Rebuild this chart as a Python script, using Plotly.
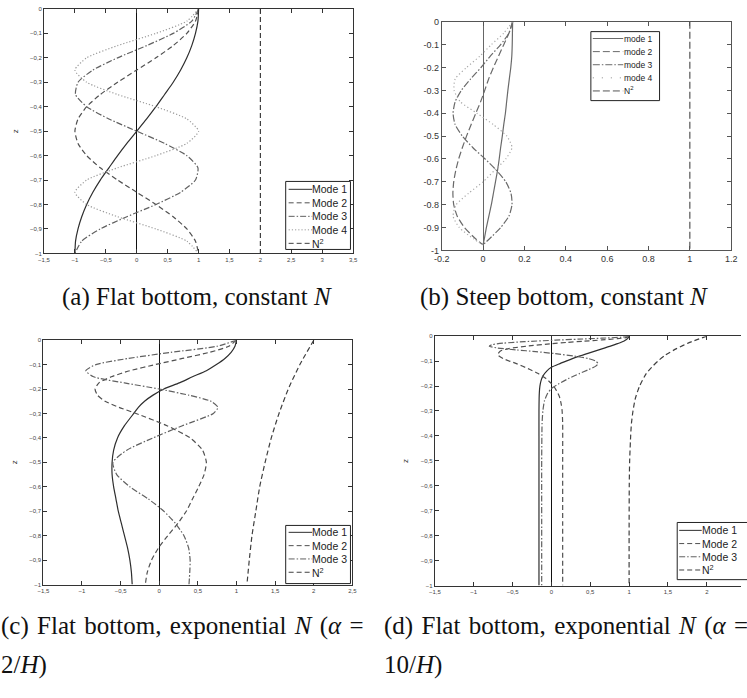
import plotly.graph_objects as go

W, H = 747, 698

# ---------------- data ----------------
# Panel (a): flat bottom, constant N
A_Z = [0, -0.05, -0.1, -0.15, -0.2, -0.25, -0.3, -0.35, -0.4, -0.45, -0.5,
       -0.55, -0.6, -0.65, -0.7, -0.75, -0.8, -0.85, -0.9, -0.95, -1.0]
A_MODE1 = [1.0, 0.99, 0.95, 0.89, 0.81, 0.71, 0.59, 0.45, 0.31, 0.16, 0.0,
           -0.16, -0.31, -0.45, -0.59, -0.71, -0.81, -0.89, -0.95, -0.99, -1.0]
A_MODE2 = [1.0, 0.95, 0.81, 0.59, 0.31, 0.0, -0.31, -0.59, -0.81, -0.95, -1.0,
           -0.95, -0.81, -0.59, -0.31, 0.0, 0.31, 0.59, 0.81, 0.95, 1.0]
A_MODE3 = [1.0, 0.89, 0.59, 0.16, -0.31, -0.71, -0.95, -0.99, -0.81, -0.45, 0.0,
           0.45, 0.81, 0.99, 0.95, 0.71, 0.31, -0.16, -0.59, -0.89, -1.0]
A_MODE4 = [1.0, 0.81, 0.31, -0.31, -0.81, -1.0, -0.81, -0.31, 0.31, 0.81, 1.0,
           0.81, 0.31, -0.31, -0.81, -1.0, -0.81, -0.31, 0.31, 0.81, 1.0]
A_N2_Z = [0, -1.0]
A_N2 = [2.0, 2.0]

# Panel (b): steep bottom, constant N
B_Z = [0, -0.05, -0.1, -0.15, -0.2, -0.25, -0.3, -0.35, -0.4, -0.45, -0.5,
       -0.55, -0.6, -0.65, -0.7, -0.75, -0.8, -0.85, -0.9, -0.95, -0.975]
B_MODE1 = [0.143, 0.142, 0.141, 0.139, 0.134, 0.127, 0.12, 0.114, 0.108, 0.1, 0.093,
           0.085, 0.078, 0.07, 0.06, 0.05, 0.04, 0.028, 0.016, 0.006, 0.0]
B_MODE2 = [0.143, 0.125, 0.1, 0.075, 0.05, 0.027, 0.008, -0.012, -0.035, -0.058, -0.08,
           -0.1, -0.118, -0.132, -0.142, -0.146, -0.142, -0.125, -0.09, -0.035, 0.0]
B_MODE3 = [0.143, 0.125, 0.085, 0.035, -0.01, -0.06, -0.105, -0.135, -0.145, -0.135, -0.1,
           -0.05, 0.01, 0.065, 0.11, 0.135, 0.14, 0.125, 0.085, 0.03, 0.0]
B_MODE4 = [0.143, 0.1, 0.04, -0.015, -0.08, -0.135, -0.14, -0.11, -0.03, 0.05, 0.115,
           0.14, 0.11, 0.055, 0.0, -0.07, -0.13, -0.145, -0.115, -0.045, 0.0]
B_N2_Z = [0, -1.0]
B_N2 = [1.0, 1.0]

# Panel (c): flat bottom, exponential N (alpha = 2/H)
C_Z = [0, -0.025, -0.05, -0.075, -0.1, -0.125, -0.15, -0.175, -0.2, -0.225, -0.25,
       -0.275, -0.3, -0.35, -0.4, -0.45, -0.5, -0.55, -0.6, -0.65, -0.7, -0.75,
       -0.8, -0.85, -0.9, -0.95, -1.0]
C_MODE1 = [1.0, 0.98, 0.93, 0.85, 0.74, 0.61, 0.43, 0.26, 0.06, -0.08, -0.19,
           -0.27, -0.33, -0.45, -0.54, -0.59, -0.61, -0.61, -0.59, -0.56, -0.53, -0.49,
           -0.45, -0.41, -0.38, -0.36, -0.35]
C_MODE2 = [1.0, 0.9, 0.65, 0.3, -0.05, -0.38, -0.62, -0.78, -0.83, -0.8, -0.7,
           -0.52, -0.3, 0.1, 0.4, 0.56, 0.61, 0.58, 0.51, 0.43, 0.35, 0.24,
           0.11, -0.01, -0.1, -0.155, -0.18]
C_MODE3 = [1.0, 0.75, 0.15, -0.4, -0.82, -0.95, -0.85, -0.45, 0.0, 0.38, 0.67,
           0.76, 0.7, 0.3, -0.08, -0.42, -0.6, -0.55, -0.38, -0.14, 0.06, 0.21,
           0.32, 0.38, 0.4, 0.395, 0.385]
C_N2_Z = [0, -0.1, -0.2, -0.3, -0.4, -0.5, -0.6, -0.7, -0.8, -0.9, -1.0]
C_N2 = [2.0, 1.82, 1.67, 1.55, 1.45, 1.37, 1.30, 1.25, 1.20, 1.165, 1.135]

# Panel (d): flat bottom, exponential N (alpha = 10/H)
D_MODE1_Z = [0, -0.01, -0.02, -0.03, -0.04, -0.05, -0.06, -0.07, -0.08, -0.09, -0.1,
             -0.11, -0.125, -0.14, -0.16, -0.18, -0.2, -0.225, -0.25, -0.3, -0.4,
             -0.6, -0.8, -1.0]
D_MODE1 = [1.0, 0.98, 0.93, 0.85, 0.76, 0.66, 0.56, 0.46, 0.36, 0.27, 0.19,
           0.11, 0.0, -0.06, -0.11, -0.135, -0.148, -0.155, -0.158, -0.16, -0.16,
           -0.16, -0.16, -0.16]
D_MODE2_Z = [0, -0.005, -0.01, -0.015, -0.02, -0.025, -0.03, -0.04, -0.05, -0.06, -0.075,
             -0.09, -0.11, -0.13, -0.15, -0.17, -0.19, -0.21, -0.24, -0.27, -0.3,
             -0.35, -0.5, -0.75, -1.0]
D_MODE2 = [1.0, 0.97, 0.85, 0.65, 0.42, 0.2, 0.0, -0.32, -0.55, -0.66, -0.69,
           -0.62, -0.45, -0.3, -0.17, -0.07, 0.0, 0.05, 0.1, 0.125, 0.138,
           0.145, 0.145, 0.145, 0.145]
D_MODE3_Z = [0, -0.004, -0.008, -0.012, -0.016, -0.022, -0.028, -0.034, -0.04, -0.047,
             -0.055, -0.062, -0.07, -0.08, -0.09, -0.1, -0.11, -0.12, -0.135, -0.15,
             -0.17, -0.19, -0.21, -0.23, -0.26, -0.3, -0.35, -0.5, -0.75, -1.0]
D_MODE3 = [1.0, 0.9, 0.65, 0.35, 0.05, -0.35, -0.62, -0.76, -0.8, -0.7,
           -0.45, -0.2, 0.05, 0.3, 0.48, 0.57, 0.6, 0.57, 0.47, 0.36,
           0.22, 0.1, 0.0, -0.05, -0.09, -0.11, -0.12, -0.125, -0.125, -0.125]
D_N2_Z = [0, -0.025, -0.05, -0.075, -0.1, -0.125, -0.15, -0.2, -0.25, -0.3, -0.35,
          -0.4, -0.5, -0.6, -0.8, -1.0]
D_N2 = [2.0, 1.78, 1.61, 1.47, 1.37, 1.29, 1.22, 1.135, 1.08, 1.05, 1.03,
        1.02, 1.007, 1.002, 1.0, 1.0]

# Tick labels
Z_TICKS = [0, -0.1, -0.2, -0.3, -0.4, -0.5, -0.6, -0.7, -0.8, -0.9, -1.0]
Z_TEXT_COMMA = ["0", "−0,1", "−0,2", "−0,3", "−0,4", "−0,5", "−0,6", "−0,7", "−0,8", "−0,9", "−1"]
Z_TEXT_DOT = ["0", "-0.1", "-0.2", "-0.3", "-0.4", "-0.5", "-0.6", "-0.7", "-0.8", "-0.9", "-1"]
A_XTICKS = [-1.5, -1, -0.5, 0, 0.5, 1, 1.5, 2, 2.5, 3, 3.5]
A_XTEXT = ["−1,5", "−1", "−0,5", "0", "0,5", "1", "1,5", "2", "2,5", "3", "3,5"]
B_XTICKS = [-0.2, 0, 0.2, 0.4, 0.6, 0.8, 1.0, 1.2]
B_XTEXT = ["-0.2", "0", "0.2", "0.4", "0.6", "0.8", "1", "1.2"]
C_XTICKS = [-1.5, -1, -0.5, 0, 0.5, 1, 1.5, 2, 2.5]
C_XTEXT = ["−1,5", "−1", "−0,5", "0", "0,5", "1", "1,5", "2", "2,5"]

LABELS_A = ["Mode 1", "Mode 2", "Mode 3", "Mode 4", "N<sup>2</sup>"]
LABELS_B = ["mode 1", "mode 2", "mode 3", "mode 4", "N<sup>2</sup>"]
LABELS_CD = ["Mode 1", "Mode 2", "Mode 3", "N<sup>2</sup>"]

SP = " \u200a"  # slightly stretched inter-word space (justified first line)
CAPTION_A = "(a) Flat bottom, constant <i>N</i>"
CAPTION_B = "(b) Steep bottom, constant <i>N</i>"
CAPTION_C = [SP.join(["(c)", "Flat", "bottom,", "exponential", "<i>N</i>", "(<i>α</i>", "="]),
             "2/<i>H</i>)"]
CAPTION_D = [SP.join(["(d)", "Flat", "bottom,", "exponential", "<i>N</i>", "(<i>α</i>", "="]),
             "10/<i>H</i>)"]

# ---------------- styles ----------------
ST_M1 = dict(color="#2e2e2e", dash="solid", width=1.2)
ST_M2 = dict(color="#505050", dash="5px,3px", width=1.2)
ST_M3 = dict(color="#606060", dash="6px,2px,1.5px,2px", width=1.2)
ST_M4 = dict(color="#9a9a9a", dash="1.2px,2px", width=1.2)
ST_N2 = dict(color="#404040", dash="5px,3px", width=1.2)

STB_M1 = dict(color="#6a6a6a", dash="solid", width=1.2)
STB_M2 = dict(color="#6a6a6a", dash="7px,3px", width=1.2)
STB_M3 = dict(color="#6a6a6a", dash="7px,2px,1.5px,2px", width=1.2)
STB_M4 = dict(color="#a8a8a8", dash="1.2px,2.5px", width=1.2)
STB_N2 = dict(color="#555555", dash="7px,3px", width=1.2)

fig = go.Figure()


def add(x, z, st, name, ax):
    fig.add_trace(go.Scatter(
        x=x, y=z, mode="lines", name=name, showlegend=False,
        line=dict(color=st["color"], dash=st["dash"], width=st["width"],
                  shape="spline", smoothing=0.6),
        xaxis="x" + ax, yaxis="y" + ax, hoverinfo="skip"))


add(A_MODE1, A_Z, ST_M1, "Mode 1", "")
add(A_MODE2, A_Z, ST_M2, "Mode 2", "")
add(A_MODE3, A_Z, ST_M3, "Mode 3", "")
add(A_MODE4, A_Z, ST_M4, "Mode 4", "")
add(A_N2, A_N2_Z, ST_N2, "N²", "")

add(B_MODE1, B_Z, STB_M1, "mode 1", "2")
add(B_MODE2, B_Z, STB_M2, "mode 2", "2")
add(B_MODE3, B_Z, STB_M3, "mode 3", "2")
add(B_MODE4, B_Z, STB_M4, "mode 4", "2")
add(B_N2, B_N2_Z, STB_N2, "N²", "2")

add(C_MODE1, C_Z, ST_M1, "Mode 1", "3")
add(C_MODE2, C_Z, ST_M2, "Mode 2", "3")
add(C_MODE3, C_Z, ST_M3, "Mode 3", "3")
add(C_N2, C_N2_Z, ST_N2, "N²", "3")

add(D_MODE1, D_MODE1_Z, ST_M1, "Mode 1", "4")
add(D_MODE2, D_MODE2_Z, ST_M2, "Mode 2", "4")
add(D_MODE3, D_MODE3_Z, ST_M3, "Mode 3", "4")
add(D_N2, D_N2_Z, ST_N2, "N²", "4")


def xdom(a, b):
    return [a / W, min(b / W, 1.0)]


def ydom(top, bottom):
    return [1 - bottom / H, 1 - top / H]


SMALL = dict(family="Liberation Sans, Arial", size=6, color="#444444")
MED = dict(family="Liberation Sans, Arial", size=9, color="#333333")


def axis_pair(xd, yd, xr, xt, xtt, ytt, font, linecolor, zcolor, anchor_x, anchor_y, ytitle, ymirror=True):
    xa = dict(domain=xd, range=xr, tickvals=xt, ticktext=xtt, ticks="inside", ticklen=4,
              tickcolor=linecolor, showline=True, linecolor=linecolor, linewidth=1,
              mirror="ticks", showgrid=False, zeroline=True, zerolinecolor=zcolor,
              zerolinewidth=1.2, tickfont=font, anchor=anchor_y, fixedrange=True)
    ya = dict(domain=yd, range=[-1, 0], tickvals=Z_TICKS, ticktext=ytt, ticks="inside",
              ticklen=4, tickcolor=linecolor, showline=True, linecolor=linecolor,
              linewidth=1, mirror="ticks" if ymirror else False, showgrid=False,
              zeroline=False, tickfont=font, anchor=anchor_x, fixedrange=True)
    if ytitle:
        ya["title"] = dict(text="z", font=dict(family="Liberation Sans, Arial", size=8,
                                               color="#333333"), standoff=10)
    return xa, ya


xa1, ya1 = axis_pair(xdom(36.7, 351.7), ydom(4, 252), [-1.5, 3.5], A_XTICKS, A_XTEXT,
                     Z_TEXT_COMMA, SMALL, "#333333", "#111111", "x", "y", True)
xa2, ya2 = axis_pair(xdom(442, 737), ydom(17, 249), [-0.2, 1.2], B_XTICKS, B_XTEXT,
                     Z_TEXT_DOT, MED, "#555555", "#666666", "x2", "y2", False)
xa3, ya3 = axis_pair(xdom(36, 351), ydom(340, 588), [-1.5, 2.5], C_XTICKS, C_XTEXT,
                     Z_TEXT_COMMA, SMALL, "#333333", "#111111", "x3", "y3", True)
xa4, ya4 = axis_pair(xdom(435, 747), ydom(336, 589), [-1.5, 2.44], C_XTICKS, C_XTEXT,
                     Z_TEXT_COMMA, SMALL, "#333333", "#111111", "x4", "y4", True, ymirror=False)

fig.update_layout(
    width=W, height=H, margin=dict(l=0, r=0, t=0, b=0),
    paper_bgcolor="white", plot_bgcolor="white", showlegend=False,
    xaxis=xa1, yaxis=ya1, xaxis2=xa2, yaxis2=ya2,
    xaxis3=xa3, yaxis3=ya3, xaxis4=xa4, yaxis4=ya4,
)


def px(x):
    return x / W


def py(y):
    return 1 - y / H


def add_legend(box, row0, gap, sample, text_x, labels, styles, fsize):
    x0, y0, x1, y1 = box
    fig.add_shape(type="rect", xref="paper", yref="paper", x0=px(x0), x1=px(x1),
                  y0=py(y1), y1=py(y0), line=dict(color="#222222", width=1),
                  fillcolor="white", layer="above")
    for i, (lab, st) in enumerate(zip(labels, styles)):
        yc = row0 + i * gap
        fig.add_shape(type="line", xref="paper", yref="paper", x0=px(sample[0]),
                      x1=px(sample[1]), y0=py(yc), y1=py(yc),
                      line=dict(color=st["color"], width=1, dash=st["dash"]), layer="above")
        fig.add_annotation(xref="paper", yref="paper", x=px(text_x), y=py(yc), text=lab,
                           showarrow=False, xanchor="left", yanchor="middle", borderpad=0,
                           font=dict(family="Liberation Sans, Arial", size=fsize, color="#222222"))


add_legend((283, 179, 349, 248), 187, 13.7, (286, 310), 309, LABELS_A,
           [ST_M1, ST_M2, ST_M3, ST_M4, ST_N2], 10.5)
add_legend((594, 27, 664, 97), 34, 13.3, (596, 627), 627, LABELS_B,
           [STB_M1, STB_M2, STB_M3, dict(color="#888888", dash="1px,8px"), STB_N2], 8.5)
add_legend((283, 528, 349, 587), 535, 13.5, (286, 310), 309, LABELS_CD,
           [ST_M1, ST_M2, ST_M3, ST_N2], 10.5)
add_legend((682, 525, 770, 583), 533, 13.4, (684, 707), 706, LABELS_CD,
           [ST_M1, ST_M2, ST_M3, ST_N2], 10.5)

CAP_FONT = dict(family="Liberation Serif, Times New Roman, serif", size=25, color="#111111")


def caption(x, y, text, anchor):
    fig.add_annotation(xref="paper", yref="paper", x=px(x), y=py(y), text=text,
                       showarrow=False, xanchor=anchor, yanchor="middle", borderpad=0,
                       font=CAP_FONT)


caption(193, 296, CAPTION_A, "center")
caption(567, 296, CAPTION_B, "center")
caption(-8, 630, CAPTION_C[0], "left")
caption(-8, 670, CAPTION_C[1], "left")
caption(382, 630, CAPTION_D[0], "left")
caption(382, 670, CAPTION_D[1], "left")

fig.write_html("out.html")
